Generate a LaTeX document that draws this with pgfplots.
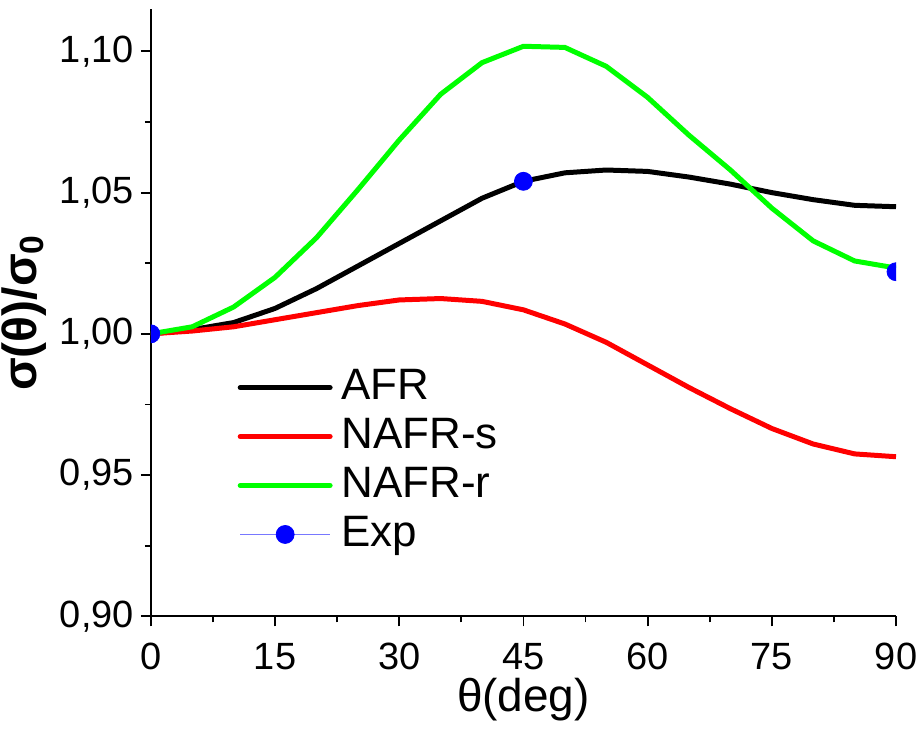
\documentclass[border=0pt]{standalone}
\usepackage{fontspec}
\setmainfont{Liberation Sans}
\usepackage{pgfplots}
\pgfplotsset{compat=1.18}
\definecolor{nafrr}{RGB}{0,255,0}
\definecolor{expblue}{RGB}{0,0,255}
\definecolor{explight}{RGB}{120,120,255}

\begin{document}
\begin{tikzpicture}
\path[use as bounding box] (-75.5pt,-56pt) rectangle (384.5pt,308.5pt);
\begin{axis}[
  scale only axis,
  width=373pt, height=304pt,
  xmin=0, xmax=90, ymin=0.9, ymax=1.115,
  axis x line=bottom, axis y line=left,
  axis line style={-, line width=0.9pt},
  xtick={0,15,...,90}, minor x tick num=1,
  ytick={0.90,0.95,1.00,1.05,1.10}, minor y tick num=1,
  tick align=outside,
  major tick length=5pt, minor tick length=3pt,
  tick style={line width=0.9pt, black},
  /pgf/number format/assume math mode=true,
  tick label style={font=\fontsize{19}{22}\selectfont},
  xticklabel style={yshift=-5pt},
  yticklabel style={/pgf/number format/.cd, fixed, fixed zerofill, precision=2, use comma},
  xlabel={θ(deg)},
  xlabel style={yshift=3pt},
  ylabel={\textbf{σ(θ)/σ\textsubscript{0}}},
  label style={font=\fontsize{23}{27}\selectfont},
  ylabel style={font=\fontsize{24}{28}\selectfont},
  clip mode=individual,
  clip marker paths=true,
  legend style={draw=none, fill=none, at={(rel axis cs:0.108,0.42)}, anchor=north west,
    font=\fontsize{22}{26}\selectfont, row sep=2.5pt,
    nodes={inner sep=1pt, text height=16pt, text depth=4pt}},
  legend cell align=left,
  legend image code/.code={\draw[#1, line cap=round] (0pt,0pt) -- (45pt,0pt);},
]
\addplot[black, line width=2.5pt] coordinates {
  (0,1.000)(5,1.0015)(10,1.004)(15,1.009)(20,1.016)(25,1.024)(30,1.032)
  (35,1.040)(40,1.048)(45,1.054)(50,1.057)(55,1.058)(60,1.0575)(65,1.0555)
  (70,1.053)(75,1.050)(80,1.0475)(85,1.0455)(90,1.045)
};
\addplot[red, line width=2.5pt] coordinates {
  (0,1.000)(5,1.001)(10,1.0025)(15,1.005)(20,1.0075)(25,1.010)(30,1.012)
  (35,1.0125)(40,1.0115)(45,1.0085)(50,1.0035)(55,0.997)(60,0.989)(65,0.981)
  (70,0.9735)(75,0.9665)(80,0.961)(85,0.9575)(90,0.9565)
};
\addplot[nafrr, line width=2.5pt] coordinates {
  (0,1.000)(5,1.0025)(10,1.0095)(15,1.020)(20,1.034)(25,1.051)(30,1.0686)
  (35,1.0848)(40,1.096)(45,1.1018)(50,1.1014)(55,1.0947)(60,1.0837)(65,1.0703)
  (70,1.058)(75,1.0445)(80,1.0329)(85,1.0258)(90,1.0233)
};
\addplot[only marks, mark=*, mark size=4.5pt, color=expblue,
  legend image code/.code={
    \draw[explight, line width=0.5pt] (0pt,0pt) -- (45pt,0pt);
    \fill[expblue] (22.5pt,0pt) circle (4.5pt);}] coordinates {
  (0,1.000)(45,1.054)(90,1.022)
};
\legend{\hspace{3.5pt}AFR, \hspace{3.5pt}NAFR-s, \hspace{3.5pt}NAFR-r, \hspace{3.5pt}Exp}
\end{axis}
\end{tikzpicture}
\end{document}
